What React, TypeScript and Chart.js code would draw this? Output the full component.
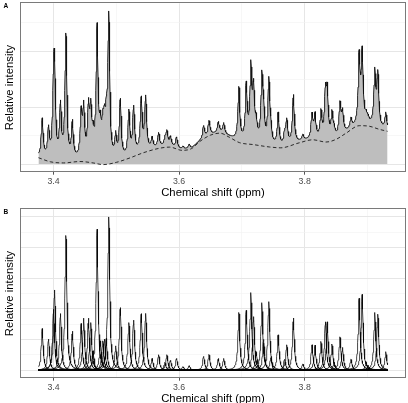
import { useEffect, useRef } from "react";
import { Chart, registerables } from "chart.js";

Chart.register(...registerables);

const FONT = '"Liberation Sans", Arial, Helvetica, sans-serif';

// Spectral window (ppm) and sampling step of the reconstructed traces
const SHIFT_START = 3.376;
const SHIFT_END = 3.932;
const SHIFT_STEP = 0.0005;

// Fitted Lorentzian signals: centre (ppm) and height above the baseline
const PEAK_SHIFTS = [
  3.382, 3.392, 3.4, 3.4016, 3.411, 3.4197, 3.43, 3.444, 3.448, 3.4556,
  3.4593, 3.463, 3.4694, 3.4746, 3.4784, 3.481, 3.484, 3.488, 3.499, 3.5063,
  3.52, 3.5276, 3.5397, 3.5467, 3.557, 3.5673, 3.5773, 3.5805, 3.5863, 3.5959,
  3.606, 3.616, 3.639, 3.6476, 3.6625, 3.671, 3.6952, 3.707, 3.7143, 3.7186,
  3.723, 3.7318, 3.7345, 3.7429, 3.746, 3.7578, 3.768, 3.7714, 3.782, 3.797,
  3.8117, 3.8165, 3.826, 3.833, 3.836, 3.8435, 3.847, 3.8562, 3.8603, 3.8737,
  3.8868, 3.8916, 3.898, 3.901, 3.9117, 3.9165, 3.9292,
];
const PEAK_HEIGHTS = [
  0.271, 0.202, 0.397, 0.523, 0.369, 0.879, 0.254, 0.304, 0.339, 0.339,
  0.31, 0.126, 0.92, 0.191, 0.191, 0.202, 0.206, 1.0, 0.158, 0.408,
  0.31, 0.326, 0.369, 0.37, 0.076, 0.1, 0.05, 0.1, 0.063, 0.076,
  0.022, 0.028, 0.089, 0.102, 0.076, 0.076, 0.376, 0.39, 0.506, 0.349,
  0.12, 0.44, 0.2, 0.447, 0.08, 0.23, 0.07, 0.165, 0.34, 0.04,
  0.165, 0.163, 0.187, 0.315, 0.315, 0.17, 0.05, 0.217, 0.148, 0.07,
  0.469, 0.495, 0.05, 0.03, 0.376, 0.365, 0.12,
];
// Half-width at half-height shared by every signal (ppm)
const PEAK_HALF_WIDTH = 0.0018;

// Smooth baseline under the observed spectrum
const BASELINE_SHIFTS = [
  3.376, 3.395, 3.416, 3.442, 3.463, 3.479, 3.5, 3.522, 3.543, 3.57,
  3.585, 3.605, 3.62, 3.633, 3.65, 3.665, 3.68, 3.696, 3.718, 3.744,
  3.762, 3.791, 3.813, 3.834, 3.85, 3.866, 3.887, 3.903, 3.919, 3.932,
];
const BASELINE_LEVELS = [
  0.045, 0.016, 0.008, 0.018, 0.008, -0.004, 0.012, 0.044, 0.08, 0.113,
  0.12, 0.097, 0.11, 0.16, 0.205, 0.219, 0.19, 0.152, 0.138, 0.121,
  0.115, 0.15, 0.172, 0.156, 0.175, 0.219, 0.272, 0.268, 0.246, 0.232,
];

// Axis breaks (minor breaks carry an empty label)
const SHIFT_BREAKS = [3.4, 3.5, 3.6, 3.7, 3.8, 3.9];
const SHIFT_LABELS = ["3.4", "", "3.6", "", "3.8", ""];
const SPECTRUM_GRID = [0, 0.2, 0.4, 0.6, 0.8, 1.0];
const SPECTRUM_MAJOR = [0, 0.4, 0.8];
const SIGNAL_GRID = [0, 0.1, 0.2, 0.3, 0.4, 0.5, 0.6, 0.7, 0.8, 0.9, 1.0];
const SIGNAL_MAJOR = [0, 0.2, 0.4, 0.6, 0.8, 1.0];

const CANVAS_W = 408;
const CANVAS_H = 206;

function lorentz(x: number, centre: number, height: number) {
  const d = (x - centre) / PEAK_HALF_WIDTH;
  return height / (1 + d * d);
}

function sampleShifts() {
  const xs: number[] = [];
  const n = Math.round((SHIFT_END - SHIFT_START) / SHIFT_STEP);
  for (let i = 0; i <= n; i++) xs.push(SHIFT_START + i * SHIFT_STEP);
  PEAK_SHIFTS.forEach((c) => xs.push(c));
  return xs.sort((a, b) => a - b);
}

function baselineAt(x: number) {
  const n = BASELINE_SHIFTS.length;
  if (x <= BASELINE_SHIFTS[0]) return BASELINE_LEVELS[0];
  if (x >= BASELINE_SHIFTS[n - 1]) return BASELINE_LEVELS[n - 1];
  let i = 0;
  while (BASELINE_SHIFTS[i + 1] < x) i++;
  const t = (x - BASELINE_SHIFTS[i]) / (BASELINE_SHIFTS[i + 1] - BASELINE_SHIFTS[i]);
  return BASELINE_LEVELS[i] + t * (BASELINE_LEVELS[i + 1] - BASELINE_LEVELS[i]);
}

// Frame around the plotting panel
const panelFrame = {
  id: "panelFrame",
  afterDatasetsDraw(chart: any) {
    const { ctx, chartArea } = chart;
    ctx.save();
    ctx.strokeStyle = "#7a7a7a";
    ctx.lineWidth = 1;
    ctx.strokeRect(
      Math.round(chartArea.left) - 0.5,
      Math.round(chartArea.top) - 0.5,
      Math.round(chartArea.right - chartArea.left) + 1,
      Math.round(chartArea.bottom - chartArea.top) + 1
    );
    ctx.restore();
  },
};

// Bold panel letter in the top-left corner
const panelTag = {
  id: "panelTag",
  afterDraw(chart: any, _args: any, opts: any) {
    const { ctx } = chart;
    ctx.save();
    ctx.fillStyle = "#000";
    ctx.font = `bold 6.5px ${FONT}`;
    ctx.textBaseline = "alphabetic";
    ctx.textAlign = "left";
    ctx.fillText(opts.text, 3.5, 7.6);
    ctx.restore();
  },
};

function buildOptions(tag: string, yGrid: number[], yMajor: number[], yLo: number, yHi: number) {
  const xPad = (SHIFT_END - SHIFT_START) * 0.05;
  const yPad = (yHi - yLo) * 0.05;
  const isMajorX = (v: number) => SHIFT_LABELS[SHIFT_BREAKS.indexOf(v)] !== "";
  const isMajorY = (v: number) => yMajor.some((m) => Math.abs(m - v) < 1e-9);
  return {
    responsive: false,
    animation: false as const,
    parsing: false as const,
    normalized: true,
    events: [],
    layout: { padding: { left: 0, right: 3, top: 3.3, bottom: 0 } },
    plugins: {
      legend: { display: false },
      tooltip: { enabled: false },
      panelTag: { text: tag },
    },
    elements: { point: { radius: 0 } },
    scales: {
      x: {
        type: "linear" as const,
        min: SHIFT_START - xPad,
        max: SHIFT_END + xPad,
        afterBuildTicks: (s: any) => {
          s.ticks = SHIFT_BREAKS.map((v) => ({ value: v }));
        },
        afterFit: (s: any) => {
          s.height = CANVAS_H - 171.7;
        },
        border: { display: false },
        grid: {
          drawTicks: true,
          tickLength: 3,
          color: (c: any) => (isMajorX(c.tick.value) ? "#e6e6e6" : "#f1f1f1"),
          lineWidth: (c: any) => (isMajorX(c.tick.value) ? 1 : 0.6),
          tickColor: (c: any) => (isMajorX(c.tick.value) ? "#555555" : "rgba(0,0,0,0)"),
          tickWidth: 1,
        },
        ticks: {
          autoSkip: false,
          maxRotation: 0,
          padding: 2,
          color: "#4d4d4d",
          font: { family: FONT, size: 8.8 },
          callback: (v: any) => {
            const i = SHIFT_BREAKS.indexOf(v);
            return i >= 0 ? SHIFT_LABELS[i] : "";
          },
        },
        title: {
          display: true,
          text: "Chemical shift (ppm)",
          color: "#000",
          font: { family: FONT, size: 11.3 },
          padding: { top: 0, bottom: 6.2 },
        },
      },
      y: {
        type: "linear" as const,
        min: yLo - yPad,
        max: yHi + yPad,
        afterBuildTicks: (s: any) => {
          s.ticks = yGrid.map((v) => ({ value: v }));
        },
        afterFit: (s: any) => {
          s.width = 21;
        },
        border: { display: false },
        grid: {
          drawTicks: false,
          color: (c: any) => (isMajorY(c.tick.value) ? "#e6e6e6" : "#f1f1f1"),
          lineWidth: (c: any) => (isMajorY(c.tick.value) ? 1 : 0.6),
        },
        ticks: { display: false },
        title: {
          display: true,
          text: "Relative intensity",
          color: "#000",
          font: { family: FONT, size: 11.3 },
          padding: { top: 3.4, bottom: 0 },
        },
      },
    },
  };
}

export default function App() {
  const refA = useRef<HTMLCanvasElement | null>(null);
  const refB = useRef<HTMLCanvasElement | null>(null);

  useEffect(() => {
    const xs = sampleShifts();

    // Panel A: observed spectrum = baseline + all signals, with the baseline dashed
    const spectrum = xs.map((x) => {
      let y = baselineAt(x);
      for (let k = 0; k < PEAK_SHIFTS.length; k++) y += lorentz(x, PEAK_SHIFTS[k], PEAK_HEIGHTS[k]);
      return { x, y };
    });
    const baseline = BASELINE_SHIFTS.map((x, i) => ({ x, y: BASELINE_LEVELS[i] }));
    const aLo = Math.min(0, ...spectrum.map((p) => p.y));
    const aHi = Math.max(...spectrum.map((p) => p.y));

    const chartA = new Chart(refA.current as HTMLCanvasElement, {
      type: "line",
      data: {
        datasets: [
          {
            data: baseline,
            borderColor: "#1a1a1a",
            borderWidth: 0.9,
            borderDash: [3.5, 2.5],
            cubicInterpolationMode: "monotone",
            fill: false,
            pointRadius: 0,
          },
          {
            data: spectrum,
            borderColor: "#111111",
            borderWidth: 0.9,
            backgroundColor: "#bebebe",
            fill: "origin",
            tension: 0,
            pointRadius: 0,
          },
        ],
      },
      options: buildOptions("A", SPECTRUM_GRID, SPECTRUM_MAJOR, aLo, aHi) as any,
      plugins: [panelFrame, panelTag],
    });

    // Panel B: every fitted signal drawn on its own
    const signals = PEAK_SHIFTS.map((c, k) =>
      xs.map((x) => ({ x, y: lorentz(x, c, PEAK_HEIGHTS[k]) }))
    );
    const bHi = Math.max(...PEAK_HEIGHTS);

    const chartB = new Chart(refB.current as HTMLCanvasElement, {
      type: "line",
      data: {
        datasets: signals.map((d) => ({
          data: d,
          borderColor: "rgba(0,0,0,0.9)",
          borderWidth: 0.8,
          fill: false,
          tension: 0,
          pointRadius: 0,
        })),
      },
      options: buildOptions("B", SIGNAL_GRID, SIGNAL_MAJOR, 0, bHi) as any,
      plugins: [panelFrame, panelTag],
    });

    return () => {
      chartA.destroy();
      chartB.destroy();
    };
  }, []);

  return (
    <div
      style={{
        position: "fixed",
        left: 0,
        top: 0,
        width: CANVAS_W,
        height: 403,
        overflow: "hidden",
        background: "#fff",
      }}
    >
      <canvas
        ref={refA}
        width={CANVAS_W}
        height={CANVAS_H}
        style={{ position: "absolute", left: 0, top: 0, width: CANVAS_W, height: CANVAS_H }}
      />
      <canvas
        ref={refB}
        width={CANVAS_W}
        height={CANVAS_H}
        style={{ position: "absolute", left: 0, top: CANVAS_H, width: CANVAS_W, height: CANVAS_H }}
      />
    </div>
  );
}
